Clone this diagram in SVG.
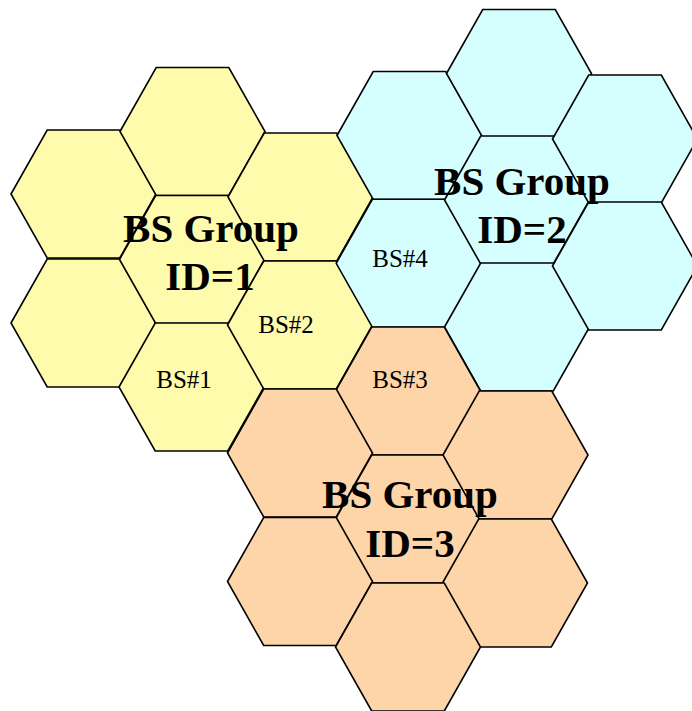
<svg xmlns="http://www.w3.org/2000/svg" xmlns:xlink="http://www.w3.org/1999/xlink" width="692" height="711" viewBox="0 0 692 711">
  <style>
    .cell { stroke: #000; stroke-width: 1.6; stroke-linejoin: miter; }
    .g1 { fill: #FFFBAD; }
    .g2 { fill: #D5FEFF; }
    .g3 { fill: #FDD5A9; }
    .title { font-family: "Liberation Serif", "Times New Roman", serif; font-weight: bold; font-size: 41px; fill: #000; text-anchor: middle; }
    .bs { font-family: "Liberation Serif", "Times New Roman", serif; font-size: 25px; fill: #000; text-anchor: middle; }
  </style>
  <defs>
    <polygon id="hex" points="-72.5,0 -36.3,-64 36.3,-64 72.5,0 36.3,64 -36.3,64"/>
  </defs>
  <rect x="0" y="0" width="692" height="711" fill="#fff"/>

  <g id="group1">
    <g id="g1c1"><use xlink:href="#hex" href="#hex" class="cell g1" transform="translate(83.5,194)"/></g>
    <g id="g1c2"><use xlink:href="#hex" href="#hex" class="cell g1" transform="translate(83.5,323)"/></g>
    <g id="g1c3"><use xlink:href="#hex" href="#hex" class="cell g1" transform="translate(192.5,131.5)"/></g>
    <g id="g1c4"><use xlink:href="#hex" href="#hex" class="cell g1" transform="translate(192,259.5)"/></g>
    <g id="bs1"><use xlink:href="#hex" href="#hex" class="cell g1" transform="translate(191.5,387)"/></g>
    <g id="g1c6"><use xlink:href="#hex" href="#hex" class="cell g1" transform="translate(300.5,197)"/></g>
    <g id="bs2"><use xlink:href="#hex" href="#hex" class="cell g1" transform="translate(300,325)"/></g>
  </g>

  <g id="group2">
    <g id="g2c1"><use xlink:href="#hex" href="#hex" class="cell g2" transform="translate(409.5,135.5)"/></g>
    <g id="bs4"><use xlink:href="#hex" href="#hex" class="cell g2" transform="translate(408.7,263.3)"/></g>
    <g id="g2c3"><use xlink:href="#hex" href="#hex" class="cell g2" transform="translate(519,73.5)"/></g>
    <g id="g2c4"><use xlink:href="#hex" href="#hex" class="cell g2" transform="translate(517,200)"/></g>
    <g id="g2c5"><use xlink:href="#hex" href="#hex" class="cell g2" transform="translate(517,327)"/></g>
    <g id="g2c6"><use xlink:href="#hex" href="#hex" class="cell g2" transform="translate(625,139)"/></g>
    <g id="g2c7"><use xlink:href="#hex" href="#hex" class="cell g2" transform="translate(625,266)"/></g>
  </g>

  <g id="group3">
    <g id="bs3"><use xlink:href="#hex" href="#hex" class="cell g3" transform="translate(408,391)"/></g>
    <g id="g3c2"><use xlink:href="#hex" href="#hex" class="cell g3" transform="translate(300,453)"/></g>
    <g id="g3c3"><use xlink:href="#hex" href="#hex" class="cell g3" transform="translate(408,519)"/></g>
    <g id="g3c4"><use xlink:href="#hex" href="#hex" class="cell g3" transform="translate(515.5,455)"/></g>
    <g id="g3c5"><use xlink:href="#hex" href="#hex" class="cell g3" transform="translate(300,581.5)"/></g>
    <g id="g3c6"><use xlink:href="#hex" href="#hex" class="cell g3" transform="translate(515,583)"/></g>
    <g id="g3c7"><use xlink:href="#hex" href="#hex" class="cell g3" transform="translate(408,647)"/></g>
  </g>

  <g id="labels">
    <text class="bs" x="184" y="388">BS#1</text>
    <text class="bs" x="286" y="333">BS#2</text>
    <text class="bs" x="400" y="388">BS#3</text>
    <text class="bs" x="400" y="267">BS#4</text>
    <text class="title" x="211" y="242">BS Group</text>
    <text class="title" x="210" y="290">ID=1</text>
    <text class="title" x="522" y="195">BS Group</text>
    <text class="title" x="522" y="243">ID=2</text>
    <text class="title" x="410" y="508">BS Group</text>
    <text class="title" x="410" y="557">ID=3</text>
  </g>
</svg>
